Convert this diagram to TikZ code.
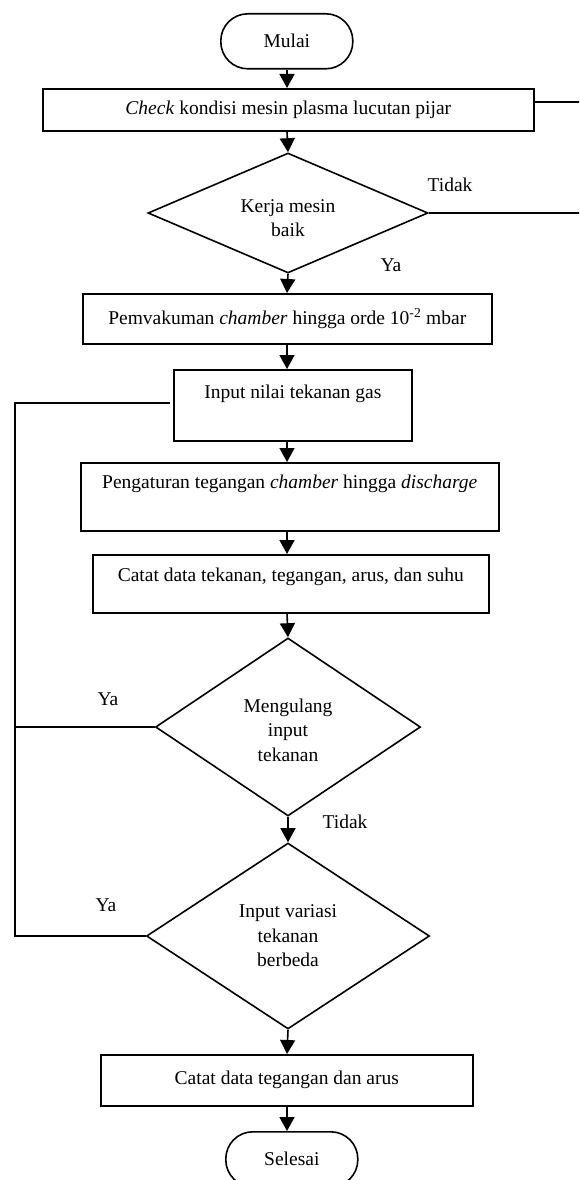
\documentclass[tikz,border=0pt]{standalone}
\usepackage{fontspec}
\setmainfont{Liberation Serif}
\usetikzlibrary{shapes.geometric,arrows.meta}
\begin{document}
\begin{tikzpicture}[x=1pt,y=-1pt,
  line width=1.6pt,
  font=\fontsize{19.5}{24.5}\selectfont,
  box/.style={draw,rectangle,inner sep=0pt,anchor=north west},
  term/.style={draw,rectangle,rounded corners=27pt,inner sep=0pt,anchor=north west},
  dia/.style={draw,diamond,inner sep=0pt},
  txt/.style={inner sep=0pt,align=center},
  arr/.style={-{Triangle[length=14pt,width=15pt]}},
  lbl/.style={inner sep=0pt}]
\clip (0,0) rectangle (579,1180);
\fill[white] (0,0) rectangle (579,1180);
\coordinate (ax) at (287,0);
% nodes
\node[term,minimum width=132pt,minimum height=55pt] (mulai) at (220,13) {Mulai};
\node[box,minimum width=491pt,minimum height=42pt] (check) at (42,88) {\textit{Check} kondisi mesin plasma lucutan pijar};
\node[dia,minimum width=280pt,minimum height=120pt] (d1) at (288,213) {};
\node[txt] (d1t) at (288,218) {Kerja mesin\\baik};
\node[box,minimum width=409pt,minimum height=50pt] (pem) at (82,293) {Pemvakuman \textit{chamber} hingga orde 10\textsuperscript{-2} mbar};
\node[box,minimum width=238pt,minimum height=71pt] (inp) at (173,369) {};
\node[txt] (inpt) at (inp.north |- 0,394) {Input nilai tekanan gas};
\node[box,minimum width=418pt,minimum height=68pt] (peng) at (80,462) {};
\node[txt] (pengt) at (peng.north |- 0,484) {Pengaturan tegangan \textit{chamber} hingga \textit{discharge}};
\node[box,minimum width=396pt,minimum height=58pt] (cat1) at (92,554) {};
\node[txt] (cat1t) at (cat1.north |- 0,577) {Catat data tekanan, tegangan, arus, dan suhu};
\node[dia,minimum width=265pt,minimum height=178pt] (d2) at (288,727) {};
\node[txt] (d2t) at (288,730) {Mengulang\\input\\tekanan};
\node[dia,minimum width=283pt,minimum height=186pt] (d3) at (288,936) {};
\node[txt] (d3t) at (288,936) {Input variasi\\tekanan\\berbeda};
\node[box,minimum width=372pt,minimum height=51pt] (cat2) at (100,1054) {Catat data tegangan dan arus};
\node[term,minimum width=132pt,minimum height=55pt] (selesai) at (225,1131) {Selesai};
% labels
\node[lbl] (tidak1) at (450,185) {Tidak};
\node[lbl] (ya1) at (391,265) {Ya};
\node[lbl] (ya2) at (108,699) {Ya};
\node[lbl] (tidak2) at (345,822) {Tidak};
\node[lbl] (ya3) at (106,905) {Ya};
% coordinates for loop and right edge
\coordinate (lx) at (15,0);
\coordinate (rx) at (600,0);
% arrows
\draw[arr] (ax |- mulai.south) -- (ax |- check.north);
\draw[arr] (ax |- check.south) -- (d1.north);
\draw[arr] (d1.south) -- (ax |- pem.north);
\draw[arr] (ax |- pem.south) -- (ax |- inp.north);
\draw[arr] (ax |- inp.south) -- (ax |- peng.north);
\draw[arr] (ax |- peng.south) -- (ax |- cat1.north);
\draw[arr] (ax |- cat1.south) -- (d2.north);
\draw[arr] (d2.south) -- (d3.north);
\draw[arr] (d3.south) -- (ax |- cat2.north);
\draw[arr] (ax |- cat2.south) -- (ax |- selesai.north);
% right-hand lines
\draw (check.east |- 0,102) -- (rx |- 0,102);
\draw (d1.east) -- (rx |- d1.east);
% loop
\draw (d3.west) -- (lx |- d3.west) -- (lx |- 0,403) -- (170,403);
\draw (d2.west) -- (lx |- d2.west);
\end{tikzpicture}
\end{document}
